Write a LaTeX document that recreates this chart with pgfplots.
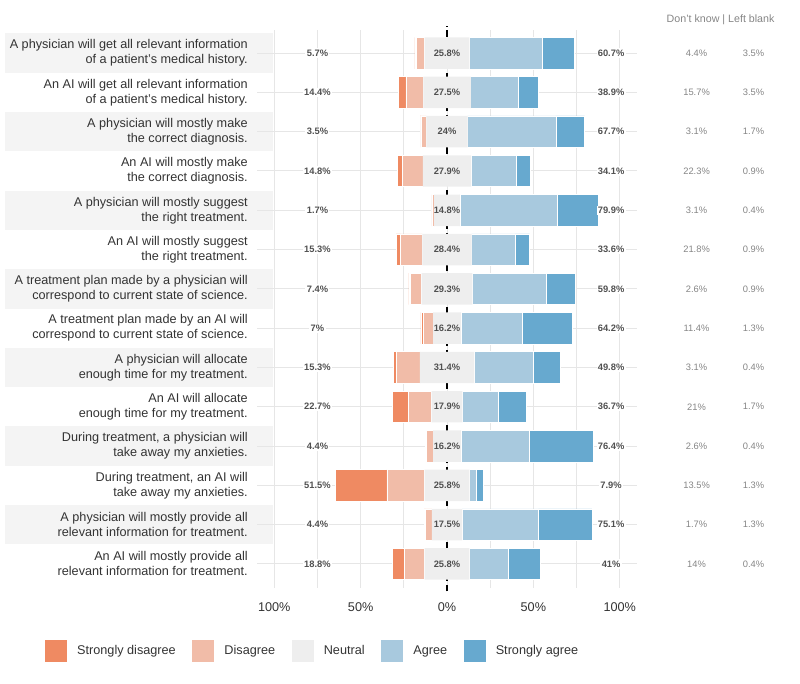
\documentclass[border=0pt]{standalone}
\usepackage{pgfplots}
\pgfplotsset{compat=1.18}
\usepackage{pgfplotstable}
\usepackage{fontspec}
\setmainfont{Liberation Sans}

\definecolor{sdis}{HTML}{EF8A62}
\definecolor{dis}{HTML}{F1BCA8}
\definecolor{neu}{HTML}{EEEEEE}
\definecolor{agr}{HTML}{A8C9DE}
\definecolor{sagr}{HTML}{67A9CF}
\definecolor{stripe}{HTML}{F4F4F4}
\definecolor{gridc}{HTML}{E6E6E6}
\definecolor{txt}{HTML}{333333}
\definecolor{valc}{HTML}{505050}
\definecolor{sidec}{HTML}{858585}

% pos 14 = first statement (top)
\pgfplotstableread{
pos SD   D    N    A    SA   L    R    dk   lb
14  0.9  4.8  25.8 42.0 18.7 5.7  60.7 4.4  3.5
13  4.4  10.0 27.5 27.6 11.3 14.4 38.9 15.7 3.5
12  0.4  3.1  24   51.0 16.7 3.5  67.7 3.1  1.7
11  2.7  12.1 27.9 26.0 8.1  14.8 34.1 22.3 0.9
10  0.3  1.4  14.8 56.6 23.3 1.7  79.9 3.1  0.4
9   2.6  12.7 28.4 25.2 8.4  15.3 33.6 21.8 0.9
8   1.0  6.4  29.3 43.1 16.7 7.4  59.8 2.6  0.9
7   1.5  5.5  16.2 35.3 28.9 7    64.2 11.4 1.3
6   1.7  13.6 31.4 34.5 15.3 15.3 49.8 3.1  0.4
5   9.3  13.4 17.9 21.0 15.7 22.7 36.7 21   1.7
4   0.6  3.8  16.2 39.7 36.7 4.4  76.4 2.6  0.4
3   29.6 21.9 25.8 4.3  3.6  51.5 7.9  13.5 1.3
2   0.5  3.9  17.5 44.1 31.0 4.4  75.1 1.7  1.3
1   7.0  11.8 25.8 22.4 18.6 18.8 41   14   0.4
}\likert

\pgfplotsset{
    geom/.style={
        at={(192.75pt,71.6pt)}, anchor=south west,
        scale only axis, width=285pt, height=418.5pt,
        xmin=-110, xmax=110, ymin=0.4, ymax=14.6,
        clip=false, axis line style={draw=none}, major tick length=0pt},
    hidden/.style={geom, xtick=\empty, ytick=\empty},
    seg/.style={draw=white, line width=0.4pt},
}

\begin{document}
\begin{tikzpicture}
\path[use as bounding box] (0,0) rectangle (600pt,512.25pt);

% row stripes behind the statements
\begin{axis}[hidden]
\pgfplotsinvokeforeach{2,4,...,14}{
    \fill[stripe] (axis cs:-255.9,#1-0.5) rectangle (axis cs:-100.6,#1+0.5);
}
\end{axis}

% grid, x ticks, zero line
\begin{axis}[geom,
    xtick={-100,-75,...,100},
    xticklabels={100\%,,50\%,,0\%,,50\%,,100\%},
    xticklabel style={anchor=center, yshift=-14.6pt, text=txt,
        font=\fontsize{9.5}{11}\selectfont},
    ytick={1,...,14}, yticklabels={},
    xmajorgrids, ymajorgrids,
    grid style={gridc, line width=0.75pt},
]
\draw[black, line width=1.1pt, dash pattern=on 5pt off 3pt]
    (axis cs:0,0.3) -- (axis cs:0,14.7);
\end{axis}

% left half: neutral/2, disagree, strongly disagree (stacked from 0 leftwards)
\begin{axis}[hidden, xbar stacked, bar width=0.8]
\addplot[fill=neu, draw=none] table[x expr=-\thisrow{N}/2, y=pos] {\likert};
\addplot[seg, fill=dis] table[x expr=-\thisrow{D}, y=pos] {\likert};
\addplot[seg, fill=sdis] table[x expr=-\thisrow{SD}, y=pos] {\likert};
\end{axis}

% right half: neutral/2, agree, strongly agree
\begin{axis}[hidden, xbar stacked, bar width=0.8]
\addplot[fill=neu, draw=none] table[x expr=\thisrow{N}/2, y=pos] {\likert};
\addplot[seg, fill=agr] table[x=A, y=pos] {\likert};
\addplot[seg, fill=sagr] table[x=SA, y=pos] {\likert};
\end{axis}

% statements, value labels and legend
\begin{axis}[geom, xtick=\empty,
    ytick={1,...,14},
    yticklabels={
        {An AI will mostly provide all\\relevant information for treatment.},
        {A physician will mostly provide all\\relevant information for treatment.},
        {During treatment, an AI will\\take away my anxieties.},
        {During treatment, a physician will\\take away my anxieties.},
        {An AI will allocate\\enough time for my treatment.},
        {A physician will allocate\\enough time for my treatment.},
        {A treatment plan made by an AI will\\correspond to current state of science.},
        {A treatment plan made by a physician will\\correspond to current state of science.},
        {An AI will mostly suggest\\the right treatment.},
        {A physician will mostly suggest\\the right treatment.},
        {An AI will mostly make\\the correct diagnosis.},
        {A physician will mostly make\\the correct diagnosis.},
        {An AI will get all relevant information\\of a patient's medical history.},
        {A physician will get all relevant information\\of a patient's medical history.}},
    yticklabel style={align=right, anchor=east, inner sep=0pt, xshift=-6.75pt,
        text=txt, font=\fontsize{9.5}{11.25}\selectfont},
    legend columns=5,
    legend image code/.code={\fill[#1, draw=none] (0pt,-8.25pt) rectangle (16.5pt,8.25pt);},
    legend style={at={(-0.558,-0.1138)}, anchor=west, draw=none, fill=none,
        inner sep=0pt, nodes={inner sep=0pt},
        font=\fontsize{9.5}{11}\selectfont, text=txt,
        /tikz/every odd column/.append style={column sep=7.5pt},
        /tikz/every even column/.append style={column sep=12.5pt}},
    vlab/.style={only marks, mark=none,
        point meta=explicit symbolic, nodes near coords={\pgfplotspointmeta\%}},
]
\addlegendimage{fill=sdis}\addlegendentry{Strongly disagree}
\addlegendimage{fill=dis}\addlegendentry{Disagree}
\addlegendimage{fill=neu}\addlegendentry{Neutral}
\addlegendimage{fill=agr}\addlegendentry{Agree}
\addlegendimage{fill=sagr}\addlegendentry{Strongly agree}

\addplot[vlab, forget plot, nodes near coords style={anchor=center, fill=white,
    inner sep=1pt, text=valc, font=\bfseries\fontsize{7}{8}\selectfont}]
    table[x expr=-75, y=pos, meta=L] {\likert};
\addplot[vlab, forget plot, nodes near coords style={anchor=center,
    inner sep=1pt, text=valc, font=\bfseries\fontsize{7}{8}\selectfont}]
    table[x expr=0, y=pos, meta=N] {\likert};
\addplot[vlab, forget plot, nodes near coords style={anchor=center, fill=white,
    inner sep=1pt, text=valc, font=\bfseries\fontsize{7}{8}\selectfont}]
    table[x expr=95, y=pos, meta=R] {\likert};
\addplot[vlab, forget plot, nodes near coords style={anchor=center,
    inner sep=1pt, text=sidec, font=\fontsize{7}{8}\selectfont}]
    table[x expr=144.5, y=pos, meta=dk] {\likert};
\addplot[vlab, forget plot, nodes near coords style={anchor=center,
    inner sep=1pt, text=sidec, font=\fontsize{7}{8}\selectfont}]
    table[x expr=177.5, y=pos, meta=lb] {\likert};

\node[text=sidec, font=\fontsize{8}{9.6}\selectfont] at (axis cs:158.4,14.84)
    {Don't know | Left blank};
\end{axis}
\end{tikzpicture}
\end{document}
